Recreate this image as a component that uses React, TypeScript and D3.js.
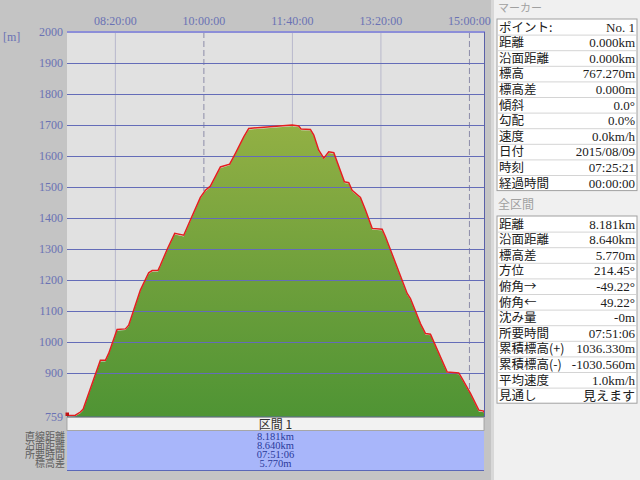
import React from "react";
import * as d3 from "d3";

const startTime = new Date(2015, 7, 9, 7, 25, 21);
const totalMinutes = 471.1;

// elapsed minutes from start and elevation (m)
const elapsedMin = [0, 1.9, 9.5, 15.1, 18.2, 37.7, 43.4, 47.1, 56.6, 66, 69.7, 82.9, 92.3, 96.2, 102.9, 105.5, 113.1, 121.7, 131.9, 139.4, 150.7, 156.4, 162, 173.3, 183.8, 190.3, 199.7, 205.3, 226.1, 254.3, 261.8, 264.5, 275, 278.8, 284.4, 290.1, 295.7, 301.4, 313.4, 318.3, 322.1, 331.5, 337.2, 344.7, 356, 359.8, 384.3, 388, 399.3, 405, 410.6, 414.4, 429.5, 442.6, 446.4, 455.8, 465.2, 470.8, 471.1];
const elevation = [767, 764, 765, 775, 784, 942, 942, 964, 1041, 1043, 1055, 1168, 1224, 1231, 1232, 1248, 1299, 1351, 1345, 1394, 1467, 1490, 1503, 1565, 1574, 1609, 1662, 1689, 1694, 1700, 1697, 1687, 1686, 1668, 1619, 1593, 1614, 1611, 1517, 1514, 1490, 1467, 1426, 1367, 1364, 1340, 1157, 1141, 1060, 1028, 1026, 1001, 904, 901, 883, 835, 781, 778, 773];

const yTicks = [2000, 1900, 1800, 1700, 1600, 1500, 1400, 1300, 1200, 1100, 1000, 900, 759];
const xTickLabels = ["08:20:00", "10:00:00", "11:40:00", "13:20:00", "15:00:00"];
const xTickMajor = [false, true, false, false, true];

const sectionTitle = "区間 1";
const sectionLabels = ["直線距離", "沿面距離", "所要時間", "標高差"];
const sectionValues = ["8.181km", "8.640km", "07:51:06", "5.770m"];

const markerTitle = "マーカー";
const markerLabels = ["ポイント:", "距離", "沿面距離", "標高", "標高差", "傾斜", "勾配", "速度", "日付", "時刻", "経過時間"];
const markerValues = ["No. 1", "0.000km", "0.000km", "767.270m", "0.000m", "0.0°", "0.0%", "0.0km/h", "2015/08/09", "07:25:21", "00:00:00"];

const totalTitle = "全区間";
const totalLabels = ["距離", "沿面距離", "標高差", "方位", "俯角→", "俯角←", "沈み量", "所要時間", "累積標高(+)", "累積標高(-)", "平均速度", "見通し"];
const totalValues = ["8.181km", "8.640km", "5.770m", "214.45°", "-49.22°", "49.22°", "-0m", "07:51:06", "1036.330m", "-1030.560m", "1.0km/h", "見えます"];

const W = 640, H = 480;
const PL = 67, PR = 484, PT = 32, PB = 417;
const serif = "'Liberation Serif', 'DejaVu Serif', 'Noto Sans CJK JP', serif";
const jp = "'Noto Sans CJK JP', sans-serif";
const valFont = "'Liberation Serif', 'Noto Sans CJK JP', serif";

function parseTick(s: string) {
  const [h, m, sec] = s.split(":").map(Number);
  return new Date(2015, 7, 9, h, m, sec);
}

function InfoTable({ top, rowH, labels, values }: { top: number; rowH: number; labels: string[]; values: string[] }) {
  const x0 = 497, x1 = 637;
  const h = rowH * labels.length;
  return (
    <g>
      <rect x={x0} y={top} width={x1 - x0} height={h} fill="#ffffff" stroke="#a0a0a0" strokeWidth={1} />
      {labels.map((l, i) => (
        <g key={i}>
          {i > 0 && <line x1={x0 + 1} x2={x1 - 1} y1={top + i * rowH + 0.5} y2={top + i * rowH + 0.5} stroke="#d4d4d4" />}
          <text x={x0 + 2} y={top + i * rowH + rowH - 3} fontFamily={jp} fontSize={12.5} fill="#202020">{l}</text>
          <text x={x1 - 2} y={top + i * rowH + rowH - 3} fontFamily={valFont} fontSize={13} fill="#202020" textAnchor="end">{values[i]}</text>
        </g>
      ))}
    </g>
  );
}

export default function App() {
  const endTime = new Date(+startTime + totalMinutes * 60000);
  const x = d3.scaleTime().domain([startTime, endTime]).range([PL, PR]);
  const y = d3.scaleLinear().domain([759, 2000]).range([PB, PT]);
  const pts = elapsedMin.map((m, i) => ({ t: new Date(+startTime + m * 60000), e: elevation[i] }));
  const area = d3.area<any>().x((d) => x(d.t)).y0(y(759)).y1((d) => y(d.e) + 1.2);
  const line = d3.line<any>().x((d) => x(d.t)).y((d) => y(d.e));
  const xTicks = xTickLabels.map(parseTick);

  return (
    <svg width={W} height={H} style={{ position: "absolute", left: 0, top: 0 }}>
      <defs>
        <linearGradient id="gfill" gradientUnits="userSpaceOnUse" x1={0} y1={y(1700)} x2={0} y2={y(759)}>
          <stop offset="0" stopColor="#92b044" />
          <stop offset="0.5" stopColor="#70a03c" />
          <stop offset="1" stopColor="#4f9434" />
        </linearGradient>
      </defs>
      <rect x={0} y={0} width={W} height={H} fill="#c4c4c4" />
      {/* plot background */}
      <rect x={PL} y={PT} width={PR - PL} height={PB - PT} fill="#e1e1e1" />
      {/* vertical grid */}
      {xTicks.map((t, i) => (
        <line key={i} x1={x(t)} x2={x(t)} y1={PT} y2={PB}
          stroke={xTickMajor[i] ? "#8c8ca8" : "#b8b8cc"} strokeWidth={1}
          strokeDasharray={xTickMajor[i] ? "6,3" : undefined} />
      ))}
      {/* area */}
      <path d={area(pts) || ""} fill="url(#gfill)" />
      {/* horizontal grid */}
      {yTicks.filter((v) => v !== 759 && v !== 2000).map((v) => (
        <line key={v} x1={PL} x2={PR} y1={Math.round(y(v)) + 0.5} y2={Math.round(y(v)) + 0.5} stroke="#646cb8" strokeWidth={1} />
      ))}
      {/* profile line */}
      <path d={line(pts) || ""} fill="none" stroke="#e41e1e" strokeWidth={1.5} />
      <rect x={x(startTime) - 1.5} y={y(elevation[0]) - 2} width={3.5} height={3.5} fill="#c01010" />
      {/* borders */}
      <line x1={PL} x2={PR + 1} y1={PT} y2={PT} stroke="#8c8ed8" strokeWidth={2} />
      <line x1={PR + 0.5} x2={PR + 0.5} y1={PT} y2={PB} stroke="#5a60a8" strokeWidth={1} />
      <line x1={PL} x2={PR} y1={PB} y2={PB} stroke="#5a6aa0" strokeWidth={1} />
      {/* axis labels */}
      <text x={3} y={41} fontFamily={serif} fontSize={12} fill="#6a72b4">[m]</text>
      {yTicks.map((v) => (
        <text key={v} x={63} y={y(v) + 4} fontFamily={serif} fontSize={12} fill="#6a72b4" textAnchor="end">{v}</text>
      ))}
      {xTicks.map((t, i) => (
        <text key={i} x={x(t)} y={25} fontFamily={serif} fontSize={12} fill="#6a72b4" textAnchor="middle">{xTickLabels[i]}</text>
      ))}
      {/* section panel */}
      <rect x={PL} y={PB + 0.5} width={PR - PL} height={13} fill="#f2f2f2" stroke="#9a9a9a" strokeWidth={0.8} />
      <text x={(PL + PR) / 2} y={PB + 11.5} fontFamily={jp} fontSize={12} fill="#303030" textAnchor="middle">{sectionTitle}</text>
      <rect x={PL} y={431} width={PR - PL} height={39} fill="#a8b6fa" />
      <line x1={PL} x2={PR} y1={470.5} y2={470.5} stroke="#5a68b8" />
      {sectionValues.map((v, i) => (
        <text key={i} x={(PL + PR) / 2} y={439.5 + i * 9.3} fontFamily={serif} fontSize={10.5} fill="#2a3a9a" textAnchor="middle">{v}</text>
      ))}
      {sectionLabels.map((l, i) => (
        <text key={i} x={65} y={439.5 + i * 9.3} fontFamily={jp} fontSize={10} fill="#606060" textAnchor="end">{l}</text>
      ))}
      {/* right panel */}
      <rect x={491} y={0} width={149} height={H} fill="#d8d8d8" />
      <rect x={494} y={0} width={146} height={H} fill="#f0f0f0" />
      <text x={498} y={12} fontFamily={jp} fontSize={11} fill="#a0a0a0">{markerTitle}</text>
      <InfoTable top={19} rowH={15.6} labels={markerLabels} values={markerValues} />
      <text x={498} y={209} fontFamily={jp} fontSize={12} fill="#a0a0a0">{totalTitle}</text>
      <InfoTable top={216} rowH={15.6} labels={totalLabels} values={totalValues} />
    </svg>
  );
}
